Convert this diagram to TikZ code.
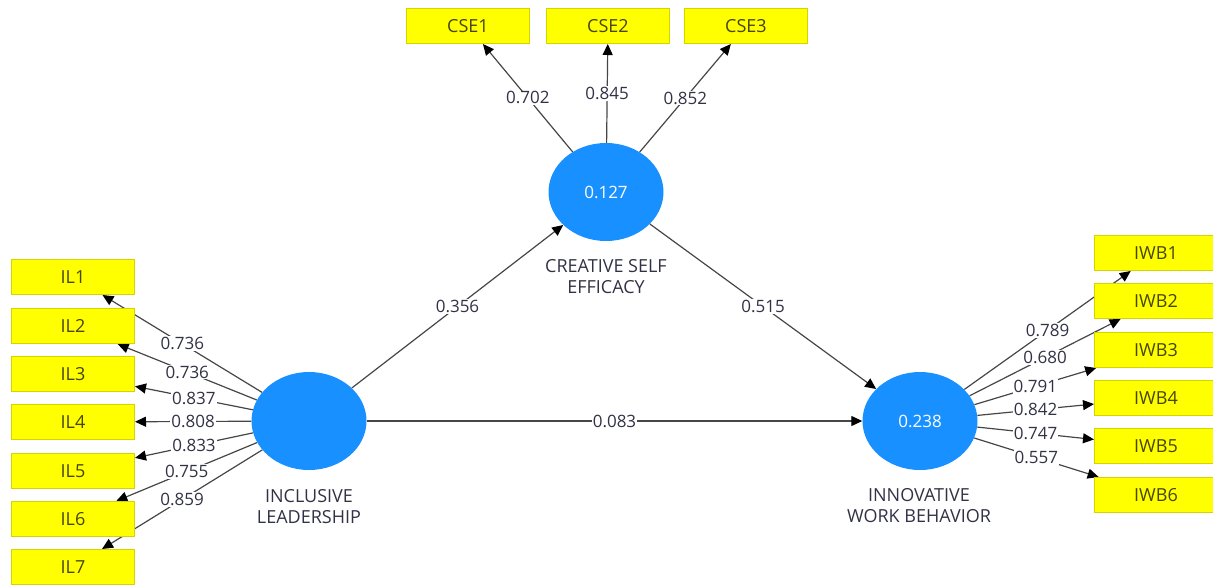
\documentclass[tikz,border=0pt]{standalone}
\usepackage{fontspec}
\setmainfont{Open Sans}
\usetikzlibrary{shapes.geometric,arrows.meta,backgrounds}
\definecolor{latblue}{RGB}{24,144,255}
\definecolor{indyellow}{RGB}{255,255,0}
\definecolor{indborder}{RGB}{212,212,0}
\definecolor{indtext}{RGB}{70,70,10}
\definecolor{lbltext}{RGB}{50,50,70}
\definecolor{pathgray}{RGB}{70,70,70}

\begin{document}
\begin{tikzpicture}[x=1pt,y=-1pt]
  \tikzstyle{ind}=[rectangle, draw=indborder, fill=indyellow, line width=1pt, minimum width=123pt, minimum height=35pt, inner sep=0pt, text=indtext, font=\fontsize{18}{18}\selectfont]
  \tikzstyle{lat}=[ellipse, fill=latblue, minimum width=115pt, minimum height=98pt, inner sep=0pt, text=white, font=\fontsize{17}{17}\selectfont]
  \tikzstyle{latname}=[align=center, text=lbltext, font=\fontsize{18}{21}\selectfont]
  \tikzstyle{arr}=[draw=pathgray, line width=1.2pt, -{Triangle[length=11pt,width=10pt,color=black]}]
  \tikzstyle{coef}=[fill=white, inner sep=1pt, text=lbltext, font=\fontsize{17}{17}\selectfont]

  \useasboundingbox (0,0) rectangle (1213,584);

  % latent variables
  \node[lat] (cse) at (606, 192) {0.127};
  \node[lat] (il)  at (309, 421) {};
  \node[lat] (iwb) at (920, 421) {0.238};

  \node[latname] (csen) at (606, 277) {CREATIVE SELF\\EFFICACY};
  \node[latname] (iln)  at (309, 507) {INCLUSIVE\\LEADERSHIP};
  \node[latname] (iwbn) at (919, 506) {INNOVATIVE\\WORK BEHAVIOR};

  % indicators
  \node[ind] (cse1) at (468, 26) {CSE1};
  \node[ind] (cse2) at (608, 26) {CSE2};
  \node[ind] (cse3) at (746, 26) {CSE3};

  \node[ind] (il1) at (73, 277) {IL1};
  \node[ind] (il2) at (73, 326) {IL2};
  \node[ind] (il3) at (73, 374) {IL3};
  \node[ind] (il4) at (73, 422) {IL4};
  \node[ind] (il5) at (73, 471) {IL5};
  \node[ind] (il6) at (73, 519) {IL6};
  \node[ind] (il7) at (73, 567) {IL7};

  \node[ind] (iwb1) at (1156, 253) {IWB1};
  \node[ind] (iwb2) at (1156, 301) {IWB2};
  \node[ind] (iwb3) at (1156, 350) {IWB3};
  \node[ind] (iwb4) at (1156, 398) {IWB4};
  \node[ind] (iwb5) at (1156, 446) {IWB5};
  \node[ind] (iwb6) at (1156, 495) {IWB6};

  \begin{pgfonlayer}{background}
  % structural paths
  \path (il)  edge[arr] node[coef] {0.356} (cse);
  \path (cse) edge[arr] node[coef] {0.515} (iwb);
  \path (il)  edge[arr] node[coef] {0.083} (iwb);

  % outer loadings
  \path (cse) edge[arr] node[coef] {0.702} (cse1);
  \path (cse) edge[arr] node[coef] {0.845} (cse2);
  \path (cse) edge[arr] node[coef] {0.852} (cse3);

  \path (il) edge[arr] node[coef] {0.736} (il1);
  \path (il) edge[arr] node[coef] {0.736} (il2);
  \path (il) edge[arr] node[coef] {0.837} (il3);
  \path (il) edge[arr] node[coef] {0.808} (il4);
  \path (il) edge[arr] node[coef] {0.833} (il5);
  \path (il) edge[arr] node[coef] {0.755} (il6);
  \path (il) edge[arr] node[coef] {0.859} (il7);

  \path (iwb) edge[arr] node[coef] {0.789} (iwb1);
  \path (iwb) edge[arr] node[coef] {0.680} (iwb2);
  \path (iwb) edge[arr] node[coef] {0.791} (iwb3);
  \path (iwb) edge[arr] node[coef] {0.842} (iwb4);
  \path (iwb) edge[arr] node[coef] {0.747} (iwb5);
  \path (iwb) edge[arr] node[coef] {0.557} (iwb6);
  \end{pgfonlayer}
\end{tikzpicture}
\end{document}
